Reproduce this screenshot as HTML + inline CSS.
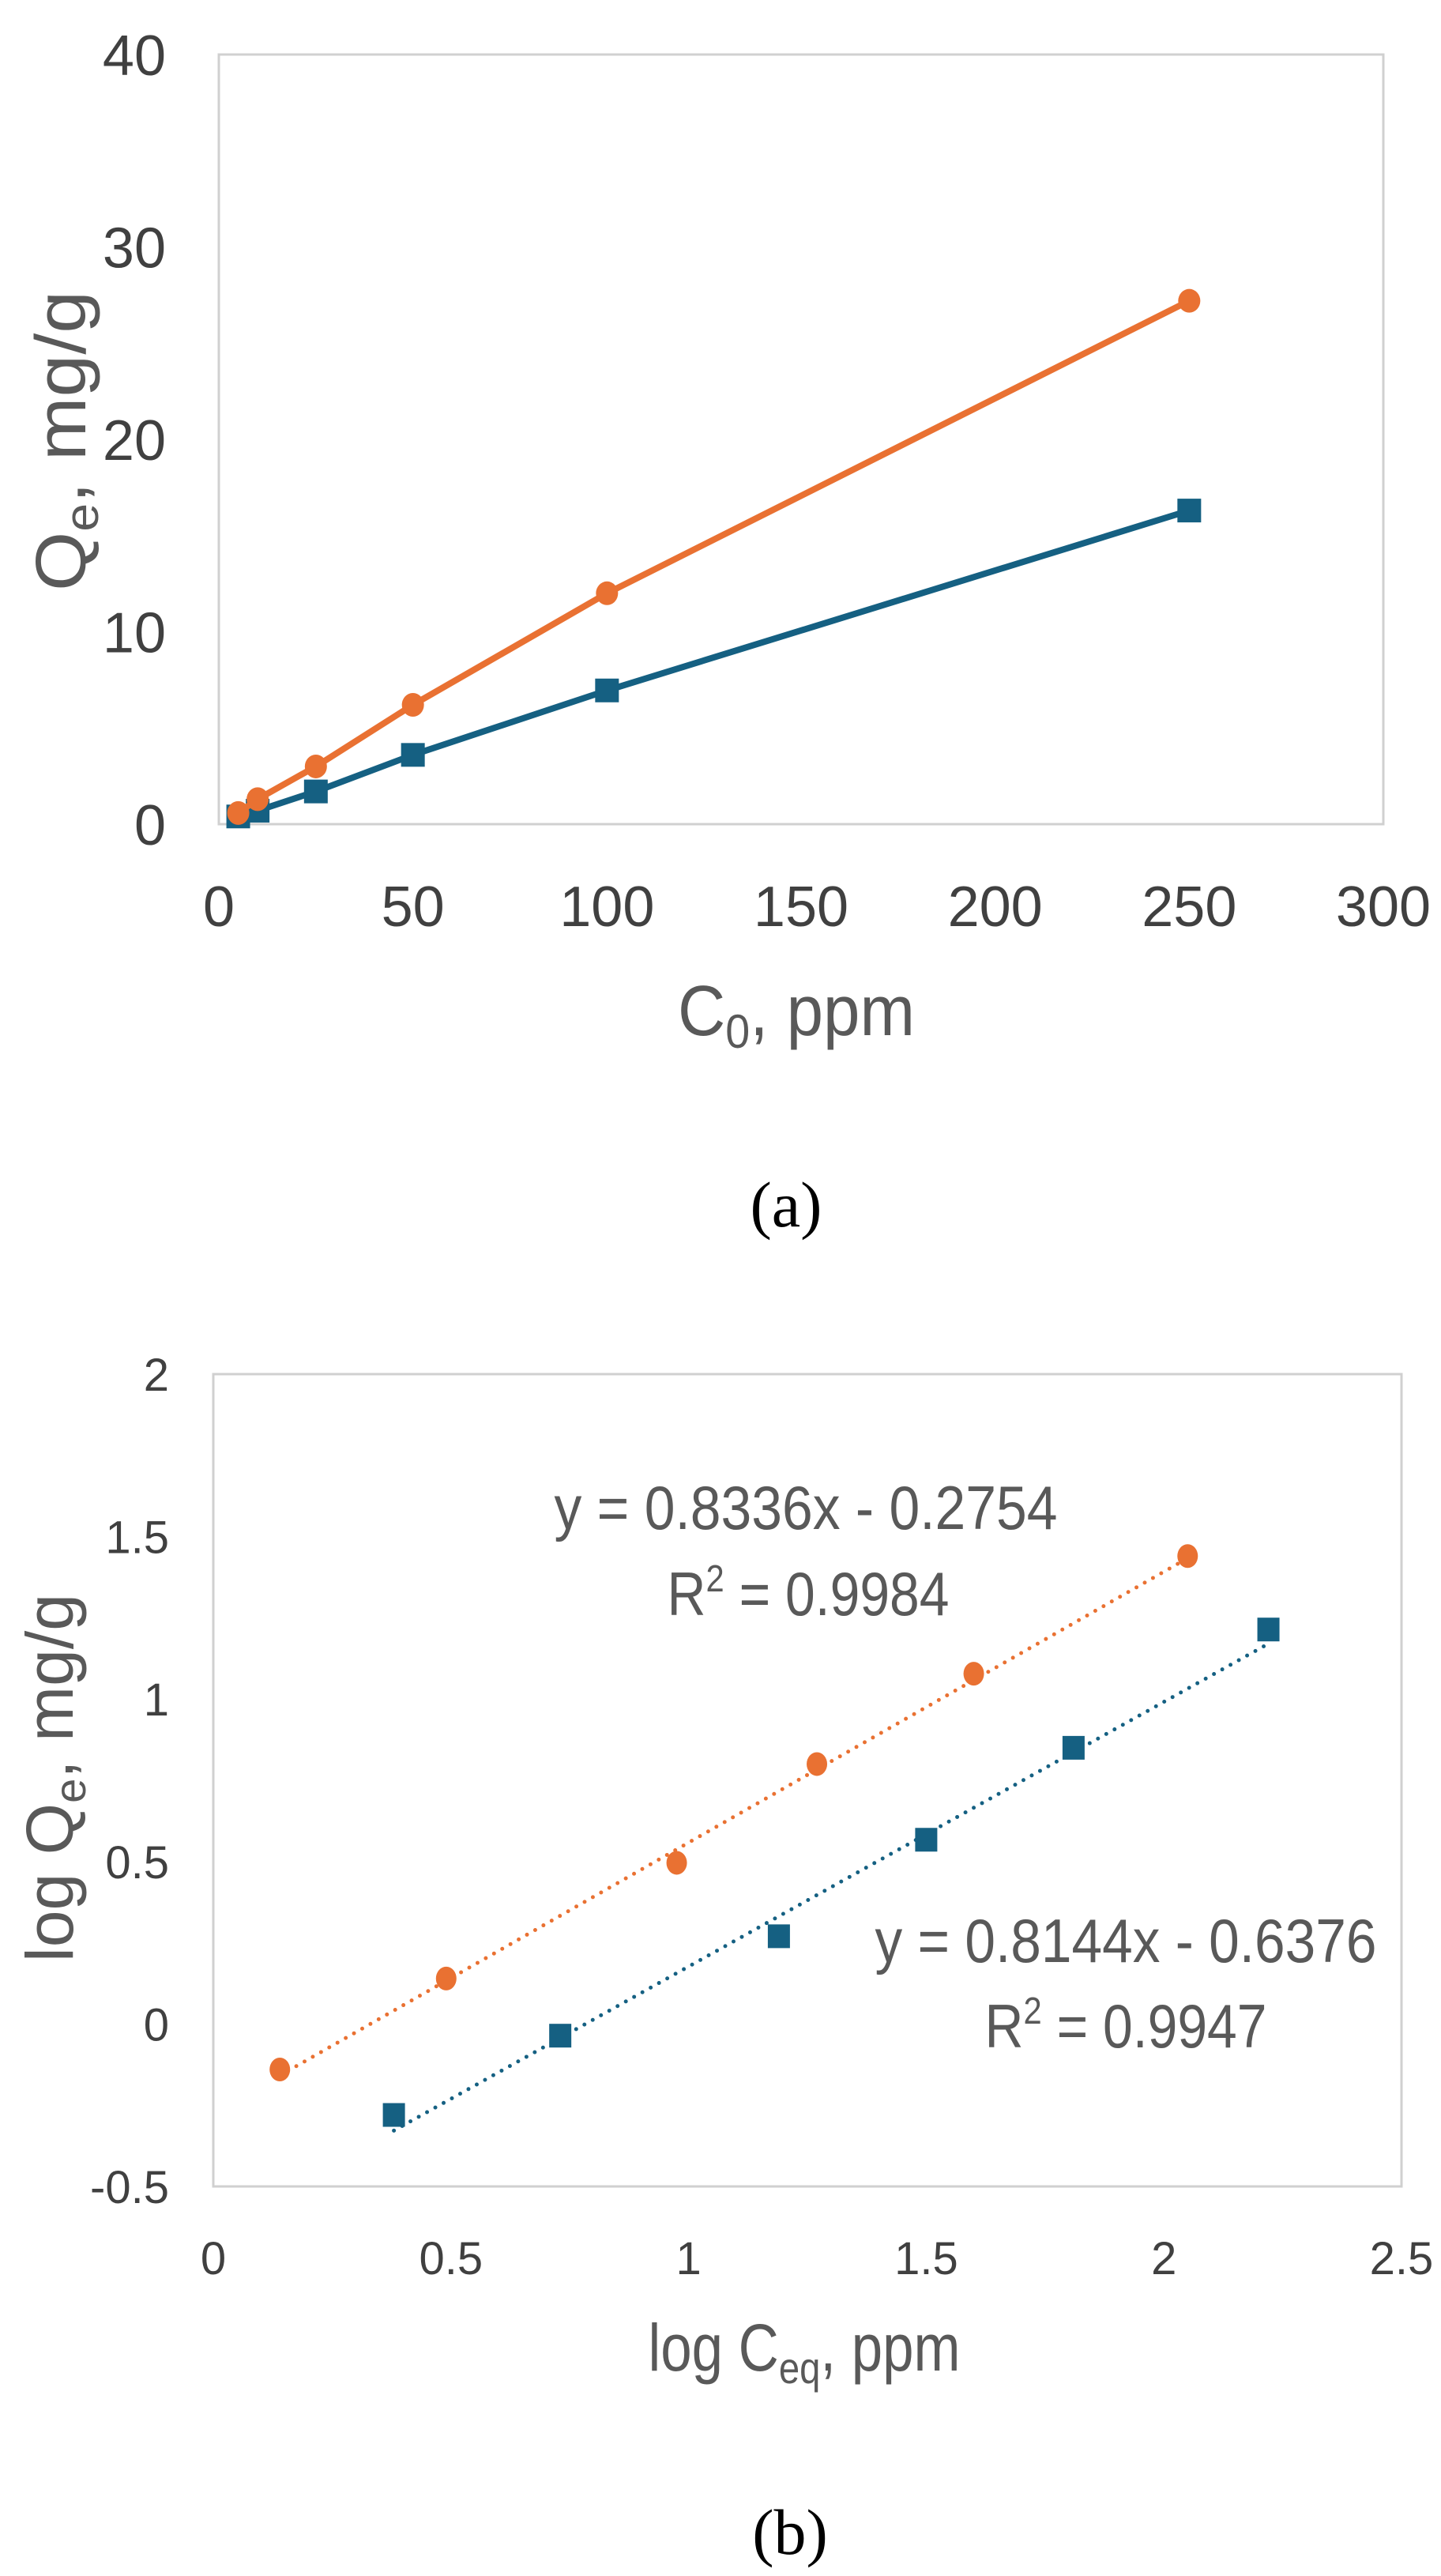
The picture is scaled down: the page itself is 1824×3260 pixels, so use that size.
<!DOCTYPE html>
<html><head><meta charset="utf-8"><style>
html,body{margin:0;padding:0;background:#fff;}
svg{display:block;}
text{font-family:"Liberation Sans Narrow","Liberation Sans",sans-serif;}
</style></head><body>
<svg id="fig" width="1824" height="3260" viewBox="0 0 1824 3260" xmlns="http://www.w3.org/2000/svg">
<g id="chartA"></g>
<g id="chartB"></g>
<text x="995" y="1552" font-size="82" style="font-family:'Liberation Serif',serif" text-anchor="middle" fill="#000">(a)</text>
<text x="1000" y="3232" font-size="82" style="font-family:'Liberation Serif',serif" text-anchor="middle" fill="#000">(b)</text>
</svg>
<script>
// Chart (a) data
const aX = [5, 10, 25, 50, 100, 250];
const aOrange = [0.58, 1.3, 3.0, 6.2, 12.0, 27.2];
const aBlue = [0.4, 0.7, 1.7, 3.6, 6.95, 16.3];
const aXTicks = [0, 50, 100, 150, 200, 250, 300];
const aYTicks = [0, 10, 20, 30, 40];
// Chart (b) data
const bXOrange = [0.14, 0.49, 0.975, 1.27, 1.60, 2.05];
const bYOrange = [-0.14, 0.14, 0.496, 0.80, 1.078, 1.44];
const bXBlue = [0.38, 0.73, 1.19, 1.50, 1.81, 2.22];
const bYBlue = [-0.28, -0.036, 0.27, 0.567, 0.85, 1.214];
const bXTicks = [0, 0.5, 1, 1.5, 2, 2.5];
const bYTickVals = [-0.5, 0, 0.5, 1, 1.5, 2];
const bYTickLabels = ["-0.5", "0", "0.5", "1", "1.5", "2"];
const bFitOrange = [0.8336, -0.2754];
const bFitBlue = [0.8144, -0.6376];

const NS = "http://www.w3.org/2000/svg";
const ORANGE = "#E97132", BLUE = "#156082";
function mk(parent, tag, attrs, txt) {
  const e = document.createElementNS(NS, tag);
  for (const k in attrs) e.setAttribute(k, attrs[k]);
  if (txt !== undefined) e.textContent = txt;
  parent.appendChild(e);
  return e;
}
function squeeze(el, len) {
  el.setAttribute("textLength", len);
  el.setAttribute("lengthAdjust", "spacingAndGlyphs");
}
function linear(d0, d1, r0, r1) { return v => r0 + (v - d0) / (d1 - d0) * (r1 - r0); }

// ---------- Chart A ----------
(function () {
  const g = document.getElementById("chartA");
  const L = 277, R = 1751, T = 69, B = 1043;
  const sx = linear(0, 300, L, R), sy = linear(0, 40, B, T);
  const box = mk(g, "rect", {x: L, y: T, width: R - L, height: B - T, fill: "none", stroke: "#d0d0d0", "stroke-width": 3});
  
  
  aYTicks.forEach(v => {
    const t = mk(g, "text", {x: 210, y: sy(v) + 26, "font-size": 72, fill: "#404040", "text-anchor": "end"}, String(v));
    
    
  });
  aXTicks.forEach(v => {
    const t = mk(g, "text", {x: sx(v), y: 1172, "font-size": 72, fill: "#404040", "text-anchor": "middle"}, String(v));
    
    
  });
  const xt = mk(g, "text", {x: 1008, y: 1310, "font-size": 90, fill: "#595959", "text-anchor": "middle"});
  
  
  xt.innerHTML = 'C<tspan font-size="60" dy="16">0</tspan><tspan dy="-16">, ppm</tspan>';
  squeeze(xt, 300);
  const yt = mk(g, "text", {x: 0, y: 0, "font-size": 90, fill: "#595959", "text-anchor": "middle", transform: "translate(108,558) rotate(-90)"});
  
  
  yt.innerHTML = 'Q<tspan font-size="60" dy="16">e</tspan><tspan dy="-16">, mg/g</tspan>';
  squeeze(yt, 380);
  function series(vals, color, name, sq) {
    const pts = aX.map((x, i) => sx(x) + "," + sy(vals[i])).join(" ");
    const pl = mk(g, "polyline", {points: pts, fill: "none", stroke: color, "stroke-width": 8, "stroke-linejoin": "round"});
    
    
    aX.forEach((x, i) => {
      let m;
      if (sq) m = mk(g, "rect", {x: sx(x) - 15, y: sy(vals[i]) - 15, width: 30, height: 30, fill: color});
      else m = mk(g, "ellipse", {cx: sx(x), cy: sy(vals[i]), rx: 14, ry: 15, fill: color});
      
      
    });
  }
  series(aBlue, BLUE, "blue-series", true);
  series(aOrange, ORANGE, "orange-series", false);
})();

// ---------- Chart B ----------
(function () {
  const g = document.getElementById("chartB");
  const L = 270, R = 1774, T = 1739, B = 2767;
  const sx = linear(0, 2.5, L, R), sy = linear(-0.5, 2, B, T);
  const box = mk(g, "rect", {x: L, y: T, width: R - L, height: B - T, fill: "none", stroke: "#d0d0d0", "stroke-width": 3});
  
  
  bYTickVals.forEach((v, i) => {
    const t = mk(g, "text", {x: 214, y: sy(v) + 21, "font-size": 58, fill: "#404040", "text-anchor": "end"}, bYTickLabels[i]);
    
    
  });
  bXTicks.forEach(v => {
    const t = mk(g, "text", {x: sx(v), y: 2878, "font-size": 58, fill: "#404040", "text-anchor": "middle"}, String(v));
    
    
  });
  const xt = mk(g, "text", {x: 1018, y: 3000, "font-size": 84, fill: "#595959", "text-anchor": "middle"});
  
  
  xt.innerHTML = 'log C<tspan font-size="56" dy="16">eq</tspan><tspan dy="-16">, ppm</tspan>';
  squeeze(xt, 395);
  const yt = mk(g, "text", {x: 0, y: 0, "font-size": 84, fill: "#595959", "text-anchor": "middle", transform: "translate(92,2250) rotate(-90)"});
  
  
  yt.innerHTML = 'log Q<tspan font-size="56" dy="16">e</tspan><tspan dy="-16">, mg/g</tspan>';
  squeeze(yt, 466);
  function series(xs, ys, fit, color, name, sq) {
    const x0 = xs[0], x1 = xs[xs.length - 1];
    const tl = mk(g, "line", {x1: sx(x0), y1: sy(fit[0] * x0 + fit[1]), x2: sx(x1), y2: sy(fit[0] * x1 + fit[1]), stroke: color, "stroke-width": 5, "stroke-dasharray": "0 12", "stroke-linecap": "round"});
    
    
    xs.forEach((x, i) => {
      let m;
      if (sq) m = mk(g, "rect", {x: sx(x) - 14, y: sy(ys[i]) - 15, width: 28, height: 30, fill: color});
      else m = mk(g, "ellipse", {cx: sx(x), cy: sy(ys[i]), rx: 13, ry: 15, fill: color});
      
      
    });
  }
  series(bXOrange, bYOrange, bFitOrange, ORANGE, "orange-series", false);
  series(bXBlue, bYBlue, bFitBlue, BLUE, "blue-series", true);
  const e1 = mk(g, "text", {x: 1020, y: 1935, "font-size": 78, fill: "#595959", "text-anchor": "middle"}, "y = 0.8336x - 0.2754");
  
  
  squeeze(e1, 637);
  const r1 = mk(g, "text", {x: 1023, y: 2044, "font-size": 78, fill: "#595959", "text-anchor": "middle"});
  
  
  r1.innerHTML = 'R<tspan font-size="48" dy="-30">2</tspan><tspan dy="30"> = 0.9984</tspan>';
  squeeze(r1, 357);
  const e2 = mk(g, "text", {x: 1425, y: 2483, "font-size": 78, fill: "#595959", "text-anchor": "middle"}, "y = 0.8144x - 0.6376");
  
  
  squeeze(e2, 635);
  const r2 = mk(g, "text", {x: 1425, y: 2591, "font-size": 78, fill: "#595959", "text-anchor": "middle"});
  
  
  r2.innerHTML = 'R<tspan font-size="48" dy="-30">2</tspan><tspan dy="30"> = 0.9947</tspan>';
  squeeze(r2, 357);
})();
</script>
</body></html>
